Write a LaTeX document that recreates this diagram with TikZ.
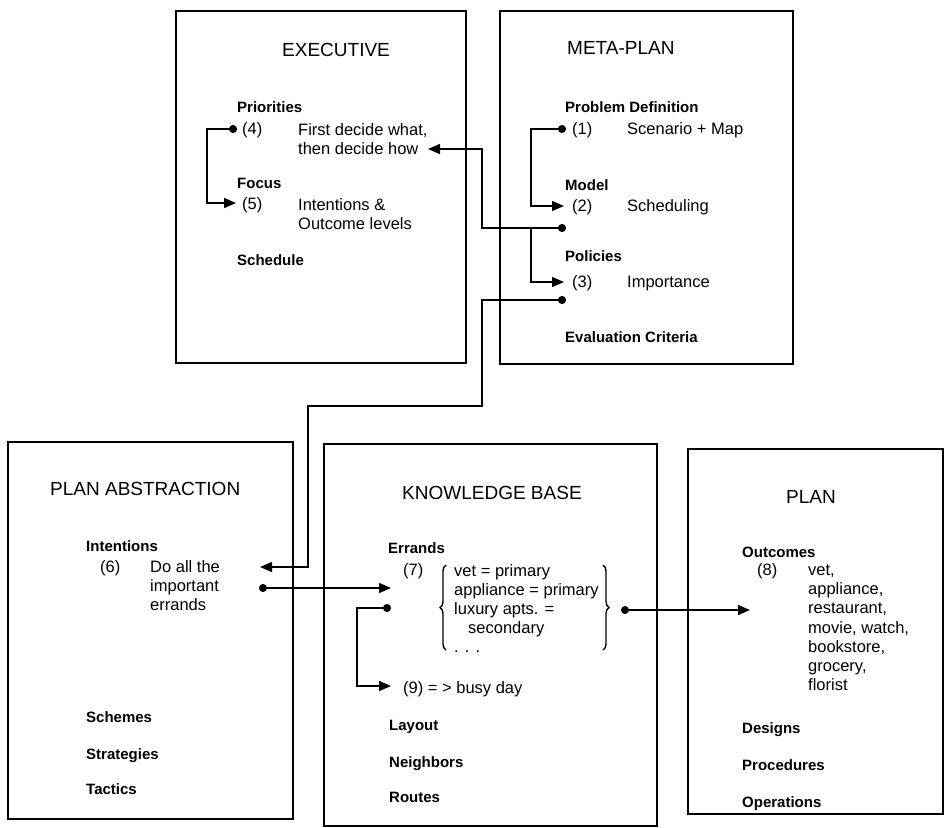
\documentclass[tikz,border=0pt]{standalone}
\usepackage{fontspec}
\setmainfont{Liberation Sans}
\usetikzlibrary{arrows.meta,decorations.pathreplacing}

\begin{document}
\begin{tikzpicture}[x=1pt, y=-1pt,
                    panel/.style={draw, line width=2.2pt, anchor=north west, inner sep=0pt},
                    title/.style={font=\fontsize{19}{22}\selectfont, anchor=mid west, inner sep=0pt, yshift=-4pt},
                    slot/.style={font=\fontsize{15}{18}\selectfont\bfseries, anchor=mid west, inner sep=0pt, yshift=-3pt},
                    entry/.style={font=\fontsize{16.5}{19.5}\selectfont, anchor=mid west, inner sep=0pt, align=left, yshift=-3pt},
                    wire/.style={line width=1.6pt},
                    dotarrow/.style={wire, {Circle[length=8pt]}-{Triangle[length=12pt,width=10pt]}},
                    toarrow/.style={wire, -{Triangle[length=12pt,width=10pt]}},
                    curly/.style={line width=1.4pt, decorate, decoration={brace, amplitude=6pt}}]
  \useasboundingbox (0,0) rectangle (944,827);

  % the five boxes
  \node[panel, minimum width=290pt, minimum height=352pt] (exec) at (175,10) {};
  \node[panel, minimum width=293pt, minimum height=353pt] (meta) at (499,10) {};
  \node[panel, minimum width=285pt, minimum height=377pt] (abst) at (7,441) {};
  \node[panel, minimum width=333pt, minimum height=382pt] (know) at (323,443) {};
  \node[panel, minimum width=255pt, minimum height=365pt] (plan) at (687,448) {};

  % executive (multi-line entries sit on their last line)
  \node[title] (execT) at (282,50) {EXECUTIVE};
  \node[slot] (prio) at (237,107) {Priorities};
  \node[entry] (n4) at (242,129) {(4)};
  \node[entry] (t4) at (298,149) {First decide what,\\then decide how};
  \node[slot] (focus) at (237,183) {Focus};
  \node[entry] (n5) at (242,204) {(5)};
  \node[entry] (t5) at (298,224) {Intentions \&\\Outcome levels};
  \node[slot] (sched) at (237,260) {Schedule};

  % meta-plan
  \node[title] (metaT) at (567,48) {META-PLAN};
  \node[slot] (probdef) at (565,107) {Problem Definition};
  \node[entry] (n1) at (572,129) {(1)};
  \node[entry] (t1) at (627,129) {Scenario + Map};
  \node[slot] (model) at (565,185) {Model};
  \node[entry] (n2) at (572,206) {(2)};
  \node[entry] (t2) at (627,206) {Scheduling};
  \node[slot] (policies) at (565,256) {Policies};
  \node[entry] (n3) at (572,282) {(3)};
  \node[entry] (t3) at (627,282) {Importance};
  \node[slot] (evalcrit) at (565,337) {Evaluation Criteria};

  % plan abstraction
  \node[title] (abstT) at (50,489) {PLAN ABSTRACTION};
  \node[slot] (intent) at (86,546) {Intentions};
  \node[entry] (n6) at (100,567) {(6)};
  \node[entry, font=\fontsize{16.5}{19}\selectfont] (t6) at (150,605) {Do all the\\important\\errands};
  \node[slot] (schemes) at (86,717) {Schemes};
  \node[slot] (strat) at (86,754) {Strategies};
  \node[slot] (tactics) at (86,789) {Tactics};

  % knowledge base
  \node[title] (knowT) at (402,493) {KNOWLEDGE BASE};
  \node[slot] (errands) at (388,548) {Errands};
  \node[entry] (n7) at (403,570) {(7)};
  \node[entry, font=\fontsize{16.5}{19}\selectfont] (t7) at (454,647)
    {vet = primary\\appliance = primary\\luxury apts. =\\\hspace{14pt}secondary\\. . .};
  \node[entry] (n9) at (403,688) {(9) = > busy day};
  \node[slot] (layout) at (389,725) {Layout};
  \node[slot] (neigh) at (389,762) {Neighbors};
  \node[slot] (routes) at (389,797) {Routes};
  \draw[curly] (446,650) -- (446,565);
  \draw[curly] (603,565) -- (603,650);

  % plan
  \node[title] (planT) at (786,497) {PLAN};
  \node[slot] (outc) at (742,552) {Outcomes};
  \node[entry] (n8) at (757,570) {(8)};
  \node[entry, font=\fontsize{16.5}{19.2}\selectfont] (t8) at (808,685)
    {vet,\\appliance,\\restaurant,\\movie, watch,\\bookstore,\\grocery,\\florist};
  \node[slot] (designs) at (742,728) {Designs};
  \node[slot] (proc) at (742,765) {Procedures};
  \node[slot] (oper) at (742,802) {Operations};

  % connector ends
  \coordinate (p4) at (237,129);
  \coordinate (p5) at (236,203);
  \coordinate (h4) at (428,149);
  \coordinate (p1) at (566,129);
  \coordinate (p2) at (564,206);
  \coordinate (m2) at (566,228);
  \coordinate (j2) at (531,228);
  \coordinate (p3) at (564,282);
  \coordinate (m3) at (566,300);
  \coordinate (i6) at (260,567);
  \coordinate (o6) at (259,588);
  \coordinate (e7) at (391,588);
  \coordinate (k7) at (391,608);
  \coordinate (k9) at (391,686);
  \coordinate (r7) at (621,610);
  \coordinate (o8) at (750,610);

  % connectors
  \draw[dotarrow] (p4) -- ++(-30,0) |- (p5);
  \draw[dotarrow] (p1) -- ++(-35,0) |- (p2);
  \draw[dotarrow] (m2) -- ++(-84,0) |- (h4);
  \draw[toarrow] (j2) |- (p3);
  \draw[dotarrow] (m3) -- ++(-84,0) -- ++(0,106) -- ++(-174,0) |- (i6);
  \draw[dotarrow] (o6) -- (e7);
  \draw[dotarrow] (k7) -- ++(-34,0) |- (k9);
  \draw[dotarrow] (r7) -- (o8);
\end{tikzpicture}
\end{document}
